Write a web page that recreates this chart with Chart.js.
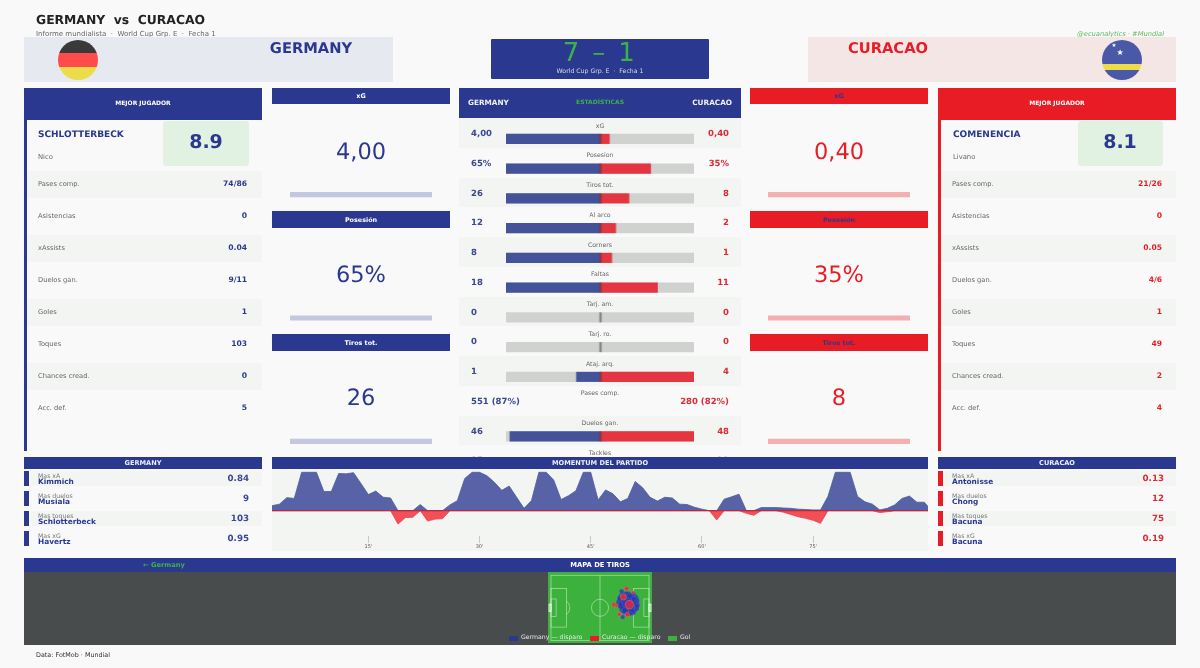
<!DOCTYPE html>
<html>
<head>
<meta charset="utf-8">
<title>Germany vs Curacao</title>
<script src="https://cdn.jsdelivr.net/npm/chart.js@4"></script>
<style>
  html, body { margin: 0; padding: 0; background: #f9f9fa; }
  body { width: 1200px; height: 668px; overflow: hidden; position: relative; font-family: "DejaVu Sans", sans-serif; text-rendering: geometricPrecision; }
  .box, .txt, canvas { position: absolute; }
  .txt { white-space: pre; line-height: 1; will-change: transform; }
</style>
</head>
<body>
<script>
const BLUE = '#2b388f';
const RED = '#e81c24';
const BAND = '#f3f5f3';

// match
const teams = ['GERMANY', 'CURACAO'];
const scoreText = '7 – 1';
const competition = 'World Cup Grp. E  ·  Fecha 1';

// best player cards
const playerRows = ['Pases comp.', 'Asistencias', 'xAssists', 'Duelos gan.', 'Goles', 'Toques', 'Chances cread.', 'Acc. def.'];
const germanyPlayerValues = ['74/86', '0', '0.04', '9/11', '1', '103', '0', '5'];
const curacaoPlayerValues = ['21/26', '0', '0.05', '4/6', '1', '49', '2', '4'];

// big numbers
const kpiLabels = ['xG', 'Posesión', 'Tiros tot.'];
const germanyKpi = [4.0, 65, 26];
const curacaoKpi = [0.4, 35, 8];
const germanyKpiText = ['4,00', '65%', '26'];
const curacaoKpiText = ['0,40', '35%', '8'];

// centre table
const statLabels = ['xG', 'Posesion', 'Tiros tot.', 'Al arco', 'Corners', 'Faltas', 'Tarj. am.', 'Tarj. ro.', 'Ataj. arq.', 'Pases comp.', 'Duelos gan.', 'Tackles'];
const germanyStats = [4.0, 65, 26, 12, 8, 18, 0, 0, 1, null, 46, 15];
const curacaoStats = [0.4, 35, 8, 2, 1, 11, 0, 0, 4, null, 48, 21];
const germanyStatText = ['4,00', '65%', '26', '12', '8', '18', '0', '0', '1', '551 (87%)', '46', '15'];
const curacaoStatText = ['0,40', '35%', '8', '2', '1', '11', '0', '0', '4', '280 (82%)', '48', '21'];

// top performers
const leaderLabels = ['Mas xA', 'Mas duelos', 'Mas toques', 'Mas xG'];
const germanyLeaders = ['Kimmich', 'Musiala', 'Schlotterbeck', 'Havertz'];
const germanyLeaderValues = ['0.84', '9', '103', '0.95'];
const curacaoLeaders = ['Antonisse', 'Chong', 'Bacuna', 'Bacuna'];
const curacaoLeaderValues = ['0.13', '12', '75', '0.19'];

// momentum, one value per minute from 2' on
const momentumMinutes = [2, 3, 4, 5, 6, 7, 8, 9, 10, 11, 12, 13, 14, 15, 16, 17, 18, 19, 20, 21, 22, 23, 24, 25, 26, 27, 28, 29, 30, 31, 32, 33, 34, 35, 36, 37, 38, 39, 40, 41, 42, 43, 44, 45, 46, 47, 48, 49, 50, 51, 52, 53, 54, 55, 56, 57, 58, 59, 60, 61, 62, 63, 64, 65, 66, 67, 68, 69, 70, 71, 72, 73, 74, 75, 76, 77, 78, 79, 80, 81, 82, 83, 84, 85, 86, 87, 88, 89, 90, 91];
const momentumGermany = [13, 17, 34, 32, 100, 100, 100, 50, 50, 97, 96, 99, 71, 42, 51, 35, 33, 0, 0, 0, 16, 0, 0, 0, 15, 26, 84, 100, 100, 91, 74, 53, 64, 35, 6, 26, 100, 100, 80, 29, 39, 52, 100, 100, 28, 54, 44, 23, 32, 76, 60, 35, 25, 35, 33, 17, 16, 9, 4, 0, 0, 30, 36, 43, 0, 0, 8, 8, 8, 7, 6, 4, 3, 2, 2, 37, 100, 100, 100, 37, 23, 17, 2, 6, 15, 32, 38, 22, 22, 0];
const momentumCuracao = [0, 0, 0, 0, 0, 0, 0, 0, 0, 0, 0, 0, 0, 0, 0, 0, 0, -35, -18, -17, 0, -27, -22, -21, 0, 0, 0, 0, 0, 0, 0, 0, 0, 0, 0, 0, 0, 0, 0, 0, 0, 0, 0, 0, 0, 0, 0, 0, 0, 0, 0, 0, 0, 0, 0, 0, 0, 0, 0, 0, -24, 0, 0, 0, -7, -12, 0, 0, 0, -4, -10, -16, -20, -25, -33, 0, 0, 0, 0, 0, 0, 0, -5, -3, 0, 0, 0, 0, 0, 0];
const momentumTicks = [15, 30, 45, 60, 75];

// shots, metres on a 105 x 68 pitch
const germanyShotX = [84.6, 79.3, 81, 86.4, 76, 83, 78, 88, 82, 85, 80, 87, 75.7, 88.2, 91.8, 76.8, 84.6, 90, 74, 79, 86, 83, 89, 77, 81, 92];
const germanyShotY = [37.3, 43.6, 34.9, 41.8, 39, 32, 37, 35, 46, 44, 41, 30, 51.3, 48.8, 33.1, 24.4, 27.9, 39, 44, 31, 36, 40, 43, 47, 38, 36];
const germanyShotXg = [0.95, 0.5, 0.6, 0.55, 0.3, 0.3, 0.25, 0.25, 0.2, 0.2, 0.15, 0.1, 0.02, 0.02, 0.02, 0.02, 0.02, 0.05, 0.04, 0.06, 0.08, 0.1, 0.04, 0.04, 0.12, 0.03];
const curacaoShotX = [77.5, 83.9, 81, 67.5, 73.2, 81.8, 70, 88];
const curacaoShotY = [45.3, 37.3, 54, 37.3, 27.2, 26.8, 36, 50];
const curacaoShotXg = [0.12, 0.3, 0.05, 0.05, 0.03, 0.05, 0.01, 0.01];
const shotLegend = ['Germany — disparo', 'Curacao — disparo', 'Gol'];

function box(x, y, w, h, bg, radius) {
  const el = document.createElement('div');
  el.className = 'box';
  el.style.cssText = `left:${x}px;top:${y}px;width:${w}px;height:${h}px;background:${bg};` + (radius ? `border-radius:${radius}px;` : '');
  document.body.appendChild(el);
  return el;
}

function label(text, x, y, size, color, opts = {}) {
  const el = document.createElement('div');
  el.className = 'txt';
  el.textContent = text;
  const shift = { l: '0', c: '-50%', r: '-100%' }[opts.align || 'l'];
  el.style.cssText = `left:${x}px;top:${y + 0.4}px;font-size:${size}px;color:${color};transform:translate(${shift},-50%);`
    + `font-weight:${opts.bold ? 'bold' : 'normal'};` + (opts.italic ? 'font-style:italic;' : '');
  document.body.appendChild(el);
  return el;
}

function addCanvas(x, y, w, h) {
  const c = document.createElement('canvas');
  c.width = w;
  c.height = h;
  c.style.cssText = `left:${x}px;top:${y}px;width:${w}px;height:${h}px;`;
  document.body.appendChild(c);
  return c;
}

// top strip
label('GERMANY  vs  CURACAO', 35.7, 19.7, 12.35, '#222222', { bold: true });
label('Informe mundialista  ·  ' + competition, 35.7, 33.7, 7, '#666666');
label('@ecuanalytics · #Mundial', 1164.3, 33.7, 6.7, '#5cb85c', { align: 'r', italic: true });

box(24, 37, 368.7, 44.7, '#e6e9ef');
box(808, 37, 368, 44.7, '#f5e6e6');
label(teams[0], 310.5, 48.7, 14.7, BLUE, { bold: true, align: 'c' });
label(teams[1], 888.3, 48.7, 14.7, RED, { bold: true, align: 'c' });

// flags
box(58, 40, 40, 40, 'linear-gradient(#3a3a3a 0 33.3%, #ff4b4b 33.3% 66.6%, #ecdc4a 66.6%)', 20);
box(1101.5, 40, 40, 40, 'linear-gradient(#4a58a8 0 60%, #ecdc4a 60% 75%, #4a58a8 75%)', 20);
label('★', 1114.3, 47, 5.5, '#ffffff', { align: 'c' });
label('★', 1120, 52.5, 8, '#ffffff', { align: 'c' });

// score
box(490.7, 39.3, 218.6, 40, BLUE, 1);
label(scoreText, 600, 52.6, 26, '#3cb14a', { align: 'c' }).style.letterSpacing = '2.4px';
label(competition, 600, 71.7, 6.2, '#dddddd', { align: 'c' });

// best player card
function playerCard(x, ruleColor, headColor, name, first, rating, ratingX, values, valueColor) {
  box(x, 88, 237.7, 32.4, headColor);
  box(x, 120, 2.6, 331, ruleColor);
  label('MEJOR JUGADOR', x + 119, 103.7, 6, '#ffffff', { bold: true, align: 'c' });
  box(ratingX, 121, 85.6, 44.7, '#e2f2e2', 3);
  label(name, x + 14.3, 134.6, 9, BLUE, { bold: true });
  label(first, x + 14.3, 156.5, 6.8, '#666666');
  label(rating, ratingX + 42.8, 141.5, 19, BLUE, { bold: true, align: 'c' });
  playerRows.forEach((row, i) => {
    const cy = 184 + i * 32;
    if (i % 2 === 0) box(x + 2.7, cy - 13, 235, 27.3, BAND);
    label(row, x + 14, cy, 6.7, '#666666');
    label(values[i], ratingX + 84, cy, 7.6, valueColor, { bold: true, align: 'r' });
  });
}
playerCard(24, BLUE, BLUE, 'SCHLOTTERBECK', 'Nico', '8.9', 163.3, germanyPlayerValues, BLUE);
playerCard(938.3, RED, RED, 'COMENENCIA', 'Livano', '8.1', 1077.5, curacaoPlayerValues, RED);

// xG / possession / shots columns
function kpiColumn(x, headColor, headText, color, values, texts, barColor) {
  const heads = [88, 211.3, 334.3];
  const mids = [151.4, 274.4, 397.2];
  kpiLabels.forEach((name, i) => {
    box(x, heads[i], 178, 16.3, headColor);
    label(name, x + 89, heads[i] + 7.8, 6.4, headText, { bold: true, align: 'c' });
    label(texts[i], x + 89, mids[i], 22.5, color, { align: 'c' });
  });
  // each meter is relative to the team's own value, as drawn in the reference
  new Chart(addCanvas(x + 18, 133, 142, 370), {
    type: 'bar',
    data: {
      labels: kpiLabels,
      datasets: [{ data: values.map(v => v / v), backgroundColor: barColor, barThickness: 4.5 }],
    },
    options: {
      indexAxis: 'y',
      responsive: false,
      animation: false,
      layout: { padding: 0 },
      plugins: { legend: { display: false }, tooltip: { enabled: false } },
      scales: { x: { display: false, min: 0, max: 1 }, y: { display: false } },
    },
  });
}
kpiColumn(271.6, BLUE, '#ffffff', BLUE, germanyKpi, germanyKpiText, '#c3c8e0');
kpiColumn(750.3, RED, BLUE, RED, curacaoKpi, curacaoKpiText, '#f4afb0');

// centre table
statLabels.forEach((name, i) => {
  if (i % 2 === 0) box(459.3, 118 + i * 29.75, 281.4, 29.75, BAND);
});
box(459.3, 87.7, 281.4, 30, BLUE);
label(teams[0], 468, 102.5, 7.3, '#eef0f8', { bold: true });
label('ESTADÍSTICAS', 600, 102.5, 6, '#3cb14a', { bold: true, align: 'c' });
label(teams[1], 732, 102.5, 7.3, '#eef0f8', { bold: true, align: 'r' });
statLabels.forEach((name, i) => {
  const top = 126.3 + i * 29.75;
  label(name, 600, top, 6.2, '#666666', { align: 'c' });
  label(germanyStatText[i], 470.8, top + 7.4, 8.5, '#3c4890', { bold: true });
  label(curacaoStatText[i], 729, top + 7.4, 8.5, '#dc2c38', { bold: true, align: 'r' });
});

// bars are scaled against the larger of the two values in each row
const statMax = statLabels.map((_, i) => Math.max(germanyStats[i], curacaoStats[i]));
const hasStat = i => germanyStats[i] !== null;
new Chart(addCanvas(506.3, 124.4, 187.4, 357), {
  type: 'bar',
  data: {
    labels: statLabels,
    datasets: [
      { data: statLabels.map((_, i) => (hasStat(i) ? [-1, 1] : null)), backgroundColor: '#d0d2d0', order: 4 },
      { data: germanyStats.map((v, i) => (v ? [-v / statMax[i], 0] : null)), backgroundColor: '#44529a', order: 3 },
      { data: curacaoStats.map((v, i) => (v ? [0, v / statMax[i]] : null)), backgroundColor: '#e43540', order: 2 },
      { data: statLabels.map((_, i) => (hasStat(i) ? [-0.004, 0.014] : null)), backgroundColor: 'rgba(60,60,60,0.5)', order: 1 },
    ],
  },
  options: {
    indexAxis: 'y',
    responsive: false,
    animation: false,
    layout: { padding: 0 },
    datasets: { bar: { grouped: false, barThickness: 9.4 } },
    plugins: { legend: { display: false }, tooltip: { enabled: false } },
    scales: { x: { display: false, min: -1, max: 1 }, y: { display: false } },
  },
});

// bottom headers
box(24, 457.3, 238, 11.4, BLUE);
box(271.6, 457.3, 656.7, 11.4, BLUE);
box(938.3, 457.3, 237.7, 11.4, BLUE);
label(teams[0], 143, 463, 6.6, '#eef0f8', { bold: true, align: 'c' });
label('MOMENTUM DEL PARTIDO', 600, 463, 6.6, '#eef0f8', { bold: true, align: 'c' });
label(teams[1], 1057, 463, 6.6, '#eef0f8', { bold: true, align: 'c' });

function leaderList(x, ruleColor, names, values, valueColor) {
  leaderLabels.forEach((what, i) => {
    const top = 471.3 + i * 20;
    if (i % 2 === 0) box(x + 7, top - 0.6, 231, 15.8, BAND);
    box(x, top, 5, 14.7, ruleColor);
    label(what, x + 14, top + 5, 6.2, '#777777');
    label(names[i], x + 14, top + 10.4, 7.4, BLUE, { bold: true });
    label(values[i], x + 225.2, top + 7.6, 8.7, valueColor, { bold: true, align: 'r' });
  });
}
leaderList(24, BLUE, germanyLeaders, germanyLeaderValues, '#3c4890');
leaderList(938.3, RED, curacaoLeaders, curacaoLeaderValues, '#dc2c38');

// momentum
box(271.6, 468.7, 656.7, 82.3, BAND);
new Chart(addCanvas(271.6, 469, 656.7, 82), {
  type: 'line',
  data: {
    datasets: [
      { data: momentumMinutes.map((m, i) => ({ x: m, y: momentumGermany[i] })), borderColor: '#4a5a9f', backgroundColor: 'rgba(43,56,143,0.78)', borderWidth: 0.8, fill: 'origin', pointRadius: 0, tension: 0 },
      { data: momentumMinutes.map((m, i) => ({ x: m, y: momentumCuracao[i] })), borderColor: '#e8404a', backgroundColor: 'rgba(240,50,60,0.85)', borderWidth: 0.8, fill: 'origin', pointRadius: 0, tension: 0 },
    ],
  },
  options: {
    responsive: false,
    animation: false,
    layout: { padding: 0 },
    plugins: { legend: { display: false }, tooltip: { enabled: false } },
    scales: {
      x: {
        type: 'linear',
        min: 2,
        max: 90.5,
        afterBuildTicks: s => { s.ticks = momentumTicks.map(value => ({ value })); },
        afterFit: s => { s.height = 15; },
        border: { display: false },
        grid: { drawOnChartArea: false, tickLength: 7, tickColor: '#b5b5b5', tickWidth: 0.7 },
        ticks: { autoSkip: false, maxRotation: 0, padding: 1, color: '#555555', font: { size: 5, family: '"DejaVu Sans"' }, callback: v => v + "'" },
      },
      y: { display: false, min: -66, max: 108.6 },
    },
  },
  plugins: [{
    id: 'baseline',
    afterDatasetsDraw(chart) {
      const { ctx, scales: { x, y } } = chart;
      ctx.save();
      ctx.strokeStyle = '#b8283f';
      ctx.lineWidth = 1.2;
      ctx.beginPath();
      ctx.moveTo(x.left, y.getPixelForValue(0));
      ctx.lineTo(x.right, y.getPixelForValue(0));
      ctx.stroke();
      ctx.restore();
    },
  }],
});

// shot map
box(24, 558.3, 1152, 13.4, BLUE);
label('MAPA DE TIROS', 600, 565, 6.8, '#ffffff', { bold: true, align: 'c' });
label('← Germany', 142.7, 564.7, 6.7, '#3cb14a', { bold: true });
box(24, 571.7, 1152, 73.3, '#484c4c');

const pitchPlugin = {
  id: 'pitch',
  beforeDatasetsDraw(chart) {
    const { ctx, chartArea, scales: { x, y } } = chart;
    const px = v => x.getPixelForValue(v);
    const py = v => y.getPixelForValue(v);
    const rect = (x0, y0, x1, y1) => ctx.strokeRect(px(x0), py(y1), px(x1) - px(x0), py(y0) - py(y1));
    ctx.save();
    ctx.fillStyle = '#3cb13c';
    ctx.fillRect(chartArea.left, chartArea.top, chartArea.width, chartArea.height);
    ctx.strokeStyle = 'rgba(255,255,255,0.6)';
    ctx.lineWidth = 0.7;
    rect(0, 0, 105, 68);
    ctx.beginPath();
    ctx.moveTo(px(52.5), py(0));
    ctx.lineTo(px(52.5), py(68));
    ctx.stroke();
    rect(0, 13.8, 16.5, 54.2);
    rect(88.5, 13.8, 105, 54.2);
    rect(0, 24.8, 5.5, 43.2);
    rect(99.5, 24.8, 105, 43.2);
    const r = px(9.15) - px(0);
    ctx.beginPath();
    ctx.arc(px(52.5), py(34), r, 0, Math.PI * 2);
    ctx.stroke();
    ctx.beginPath();
    ctx.arc(px(11), py(34), r, -0.9, 0.9);
    ctx.stroke();
    ctx.beginPath();
    ctx.arc(px(94), py(34), r, Math.PI - 0.9, Math.PI + 0.9);
    ctx.stroke();
    // goal mouths
    ctx.strokeStyle = 'rgba(255,255,255,0.9)';
    ctx.lineWidth = 1;
    rect(-2, 30.3, 0, 37.7);
    rect(105, 30.3, 107, 37.7);
    ctx.restore();
  },
};

new Chart(addCanvas(548, 572, 104, 71), {
  type: 'scatter',
  data: {
    datasets: [
      {
        data: germanyShotX.map((x, i) => ({ x, y: germanyShotY[i] })),
        pointRadius: germanyShotXg.map(v => 1 + 9 * Math.sqrt(v)),
        backgroundColor: 'rgba(43,56,170,0.72)',
        borderColor: 'rgba(110,130,220,0.5)',
        borderWidth: 0.5,
        order: 2,
      },
      {
        data: curacaoShotX.map((x, i) => ({ x, y: curacaoShotY[i] })),
        pointRadius: curacaoShotXg.map(v => 1 + 6 * Math.sqrt(v)),
        backgroundColor: 'rgba(232,40,60,0.8)',
        borderColor: 'rgba(240,130,80,0.8)',
        borderWidth: 0.5,
        order: 1,
      },
    ],
  },
  options: {
    responsive: false,
    animation: false,
    layout: { padding: 0, autoPadding: false },
    plugins: { legend: { display: false }, tooltip: { enabled: false } },
    scales: {
      x: { display: false, min: -3.2, max: 108.2 },
      y: { display: false, min: -2.8, max: 71.4 },
    },
  },
  plugins: [pitchPlugin],
});

// legend sits on top of the map
const legendX = [509, 590, 668];
const legendColors = [BLUE, RED, '#3cb13c'];
shotLegend.forEach((name, i) => {
  box(legendX[i], 635.5, 9, 5, legendColors[i]);
  label(name, legendX[i] + 12, 638, 6.2, '#e8e8e8');
});

label('Data: FotMob · Mundial', 35.7, 654.4, 6.4, '#333333');
</script>
</body>
</html>
